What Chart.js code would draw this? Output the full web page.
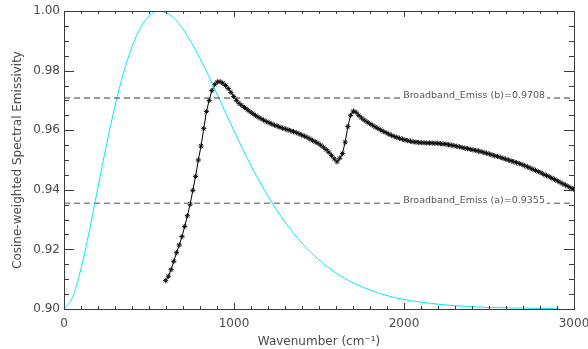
<!DOCTYPE html>
<html>
<head>
<meta charset="utf-8">
<title>Cosine-weighted Spectral Emissivity</title>
<script src="https://cdn.jsdelivr.net/npm/chart.js@4.4.1/dist/chart.umd.min.js"></script>
<style>
    html, body { margin: 0; padding: 0; background: #ffffff; }
    #wrap { width: 588px; height: 349px; }
</style>
</head>
<body>
<div id="wrap"><canvas id="emissChart" width="588" height="349"></canvas></div>
<script>
// Spectral emissivity (black asterisks), wavenumber in cm-1
const emissWavenumber = [
    598, 614, 630, 646, 662, 678, 694, 710, 726, 742,
    758, 774, 790, 806, 822, 838, 854, 870, 886, 902,
    918, 934, 950, 966, 982, 998, 1014, 1030, 1046, 1062,
    1078, 1094, 1110, 1126, 1142, 1158, 1174, 1190, 1206, 1222,
    1238, 1254, 1270, 1286, 1302, 1318, 1334, 1350, 1366, 1382,
    1398, 1414, 1430, 1446, 1462, 1478, 1494, 1510, 1526, 1542,
    1558, 1574, 1590, 1606, 1622, 1638, 1654, 1670, 1686, 1702,
    1718, 1734, 1750, 1766, 1782, 1798, 1814, 1830, 1846, 1862,
    1878, 1894, 1910, 1926, 1942, 1958, 1974, 1990, 2006, 2022,
    2038, 2054, 2070, 2086, 2102, 2118, 2134, 2150, 2166, 2182,
    2198, 2214, 2230, 2246, 2262, 2278, 2294, 2310, 2326, 2342,
    2358, 2374, 2390, 2406, 2422, 2438, 2454, 2470, 2486, 2502,
    2518, 2534, 2550, 2566, 2582, 2598, 2614, 2630, 2646, 2662,
    2678, 2694, 2710, 2726, 2742, 2758, 2774, 2790, 2806, 2822,
    2838, 2854, 2870, 2886, 2902, 2918, 2934, 2950, 2966, 2982,
    2998
];
const emissValues = [
    0.9095, 0.9110, 0.9132, 0.9160, 0.9189, 0.9215, 0.9243, 0.9277, 0.9313, 0.9352,
    0.9398, 0.9445, 0.9500, 0.9547, 0.9605, 0.9663, 0.9700, 0.9733, 0.9753, 0.9762,
    0.9763, 0.9758, 0.9750, 0.9740, 0.9727, 0.9713, 0.9700, 0.9690, 0.9683, 0.9676,
    0.9669, 0.9662, 0.9656, 0.9650, 0.9644, 0.9639, 0.9634, 0.9629, 0.9625, 0.9621,
    0.9617, 0.9614, 0.9610, 0.9607, 0.9604, 0.9601, 0.9598, 0.9595, 0.9592, 0.9588,
    0.9584, 0.9580, 0.9576, 0.9571, 0.9566, 0.9561, 0.9556, 0.9550, 0.9543, 0.9535,
    0.9526, 0.9515, 0.9504, 0.9494, 0.9506, 0.9522, 0.9560, 0.9612, 0.9650, 0.9664,
    0.9660, 0.9650, 0.9641, 0.9634, 0.9628, 0.9622, 0.9617, 0.9611, 0.9606, 0.9601,
    0.9596, 0.9592, 0.9587, 0.9583, 0.9579, 0.9576, 0.9573, 0.9570, 0.9567, 0.9565,
    0.9563, 0.9561, 0.9560, 0.9559, 0.9558, 0.9558, 0.9557, 0.9557, 0.9557, 0.9556,
    0.9556, 0.9555, 0.9554, 0.9553, 0.9551, 0.9550, 0.9548, 0.9546, 0.9544, 0.9542,
    0.9540, 0.9538, 0.9536, 0.9534, 0.9532, 0.9530, 0.9528, 0.9525, 0.9523, 0.9520,
    0.9517, 0.9514, 0.9512, 0.9509, 0.9506, 0.9503, 0.9500, 0.9497, 0.9494, 0.9491,
    0.9488, 0.9485, 0.9481, 0.9477, 0.9473, 0.9469, 0.9465, 0.9461, 0.9457, 0.9452,
    0.9448, 0.9444, 0.9439, 0.9435, 0.9430, 0.9425, 0.9420, 0.9416, 0.9411, 0.9406,
    0.9402
];

// Scaled Planck curve (cyan)
const planckWavenumber = [
    0, 50, 100, 150, 200, 250, 300, 350, 400, 450,
    500, 550, 600, 650, 700, 750, 800, 850, 900, 950,
    1000, 1100, 1200, 1300, 1400, 1500, 1600, 1700, 1800, 1900,
    2000, 2100, 2200, 2300, 2400, 2500, 2600, 2700, 2800, 2900
];
const planckValues = [
    0.9000, 0.9039, 0.9135, 0.9265, 0.9409, 0.9551, 0.9681, 0.9792, 0.9880, 0.9944,
    0.9983, 0.9999, 0.9995, 0.9974, 0.9940, 0.9894, 0.9841, 0.9783, 0.9721, 0.9659,
    0.9598, 0.9481, 0.9379, 0.9292, 0.9221, 0.9165, 0.9121, 0.9088, 0.9064, 0.9045,
    0.9032, 0.9023, 0.9016, 0.9011, 0.9008, 0.9005, 0.9004, 0.9003, 0.9002, 0.9001
];

// Broadband emissivities (dashed lines)
const broadbandA = 0.9355;
const broadbandB = 0.9708;
const broadbandLabelStart = 1995;

// Axis ticks
const xTickValues = [0, 1000, 2000, 3000];
const yTickValues = [0.90, 0.92, 0.94, 0.96, 0.98, 1.00];
const xMinorPerMajor = 10;
const yMinorPerMajor = 4;

function toPoints(xs, ys) {
    return xs.map(function(x, i) { return { x: x, y: ys[i] }; });
}

// Box frame with inward ticks on all four sides, plus the broadband labels
const frameAndLabels = {
    id: 'frameAndLabels',
    afterDatasetsDraw: function(chart) {
        const ctx = chart.ctx;
        const area = chart.chartArea;
        const xs = chart.scales.x;
        const ys = chart.scales.y;

        ctx.save();
        ctx.strokeStyle = '#3a3a3a';
        ctx.lineWidth = 1;
        ctx.strokeRect(Math.round(area.left) + 0.5, Math.round(area.top) + 0.5,
            Math.round(area.right - area.left), Math.round(area.bottom - area.top));

        ctx.beginPath();
        // x ticks (bottom and top)
        for (let i = 0; i < xTickValues.length; i++) {
            const px = Math.round(xs.getPixelForValue(xTickValues[i])) + 0.5;
            ctx.moveTo(px, area.bottom); ctx.lineTo(px, area.bottom - 6);
            ctx.moveTo(px, area.top); ctx.lineTo(px, area.top + 6);
            if (i < xTickValues.length - 1) {
                const step = (xTickValues[i + 1] - xTickValues[i]) / xMinorPerMajor;
                for (let k = 1; k < xMinorPerMajor; k++) {
                    const mx = Math.round(xs.getPixelForValue(xTickValues[i] + k * step)) + 0.5;
                    ctx.moveTo(mx, area.bottom); ctx.lineTo(mx, area.bottom - 3);
                    ctx.moveTo(mx, area.top); ctx.lineTo(mx, area.top + 3);
                }
            }
        }
        // y ticks (left and right)
        for (let i = 0; i < yTickValues.length; i++) {
            const py = Math.round(ys.getPixelForValue(yTickValues[i])) + 0.5;
            ctx.moveTo(area.left, py); ctx.lineTo(area.left + 10, py);
            ctx.moveTo(area.right, py); ctx.lineTo(area.right - 10, py);
            if (i < yTickValues.length - 1) {
                const step = (yTickValues[i + 1] - yTickValues[i]) / yMinorPerMajor;
                for (let k = 1; k < yMinorPerMajor; k++) {
                    const my = Math.round(ys.getPixelForValue(yTickValues[i] + k * step)) + 0.5;
                    ctx.moveTo(area.left, my); ctx.lineTo(area.left + 5, my);
                    ctx.moveTo(area.right, my); ctx.lineTo(area.right - 5, my);
                }
            }
        }
        ctx.stroke();

        // Broadband labels sitting on the dashed lines
        ctx.font = '9.5px "DejaVu Sans"';
        ctx.textBaseline = 'alphabetic';
        ctx.textAlign = 'left';
        const labels = [
            ['Broadband_Emiss (b)=' + broadbandB.toFixed(4), broadbandB],
            ['Broadband_Emiss (a)=' + broadbandA.toFixed(4), broadbandA]
        ];
        labels.forEach(function(item) {
            const lx = xs.getPixelForValue(broadbandLabelStart);
            const ly = ys.getPixelForValue(item[1]);
            const w = ctx.measureText(item[0]).width;
            ctx.fillStyle = '#ffffff';
            ctx.fillRect(lx - 2, ly - 2, w + 4, 4);
            ctx.fillStyle = '#555555';
            ctx.fillText(item[0], lx, ly);
        });
        ctx.restore();
    }
};

document.addEventListener('DOMContentLoaded', function() {
    const ctx = document.getElementById('emissChart').getContext('2d');

    new Chart(ctx, {
        type: 'scatter',
        data: {
            datasets: [{
                label: 'Broadband (b)',
                data: [{ x: 0, y: broadbandB }, { x: 3000, y: broadbandB }],
                showLine: true,
                borderColor: '#333333',
                borderWidth: 1,
                borderDash: [6, 4],
                pointRadius: 0
            }, {
                label: 'Broadband (a)',
                data: [{ x: 0, y: broadbandA }, { x: 3000, y: broadbandA }],
                showLine: true,
                borderColor: '#8a8a8a',
                borderWidth: 1.6,
                borderDash: [6, 4],
                pointRadius: 0
            }, {
                label: 'Planck',
                data: toPoints(planckWavenumber, planckValues),
                showLine: true,
                borderColor: 'rgb(0, 236, 246)',
                borderWidth: 1,
                tension: 0.4,
                cubicInterpolationMode: 'monotone',
                pointRadius: 0
            }, {
                label: 'Emissivity',
                data: toPoints(emissWavenumber, emissValues),
                showLine: true,
                borderColor: '#000000',
                borderWidth: 1,
                pointStyle: 'star',
                pointRadius: 2.6,
                pointBorderColor: '#111111',
                pointBorderWidth: 1,
                pointBackgroundColor: '#000000'
            }]
        },
        options: {
            responsive: false,
            animation: false,
            devicePixelRatio: 1,
            layout: {
                padding: { top: 11, right: 0, bottom: 0, left: 0 }
            },
            plugins: {
                legend: { display: false },
                tooltip: { enabled: false }
            },
            scales: {
                x: {
                    type: 'linear',
                    min: 0,
                    max: 3000,
                    grid: { display: false, drawTicks: false },
                    border: { display: false },
                    afterBuildTicks: function(scale) {
                        scale.ticks = xTickValues.map(function(v) { return { value: v }; });
                    },
                    afterFit: function(scale) {
                        scale.height = 40;
                        scale.paddingLeft = 0;
                        scale.paddingRight = 14;
                    },
                    ticks: {
                        padding: 8,
                        maxRotation: 0,
                        color: '#4a4a4a',
                        font: { family: 'DejaVu Sans', size: 12 },
                        callback: function(value) { return String(value); }
                    },
                    title: {
                        display: true,
                        text: 'Wavenumber (cm\u207B\u00B9)',
                        color: '#4a4a4a',
                        font: { family: 'DejaVu Sans', size: 12 },
                        padding: { top: 0, bottom: 0 }
                    }
                },
                y: {
                    type: 'linear',
                    min: 0.90,
                    max: 1.00,
                    grid: { display: false, drawTicks: false },
                    border: { display: false },
                    afterBuildTicks: function(scale) {
                        scale.ticks = yTickValues.map(function(v) { return { value: v }; });
                    },
                    afterFit: function(scale) {
                        scale.width = 64;
                        scale.paddingTop = 0;
                        scale.paddingBottom = 0;
                    },
                    ticks: {
                        padding: 4,
                        color: '#4a4a4a',
                        font: { family: 'DejaVu Sans', size: 12 },
                        callback: function(value) { return Number(value).toFixed(2); }
                    },
                    title: {
                        display: true,
                        text: 'Cosine-weighted Spectral Emissivity',
                        color: '#4a4a4a',
                        font: { family: 'DejaVu Sans', size: 12 },
                        padding: { top: 11, bottom: 0 }
                    }
                }
            }
        },
        plugins: [frameAndLabels]
    });
});
</script>
</body>
</html>
